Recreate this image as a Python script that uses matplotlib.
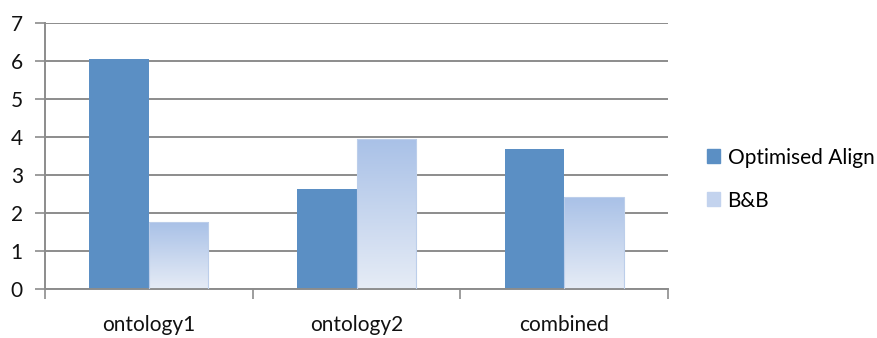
import numpy as np
import matplotlib.pyplot as plt
from matplotlib.patches import Patch

categories = ['ontology1', 'ontology2', 'combined']
optimised_align = [6.04, 2.63, 3.67]
bnb = [1.76, 3.93, 2.40]
series_names = ['Optimised Align', 'B&B']

plt.rcParams['font.family'] = ['Lato', 'DejaVu Sans']

fig = plt.figure(figsize=(8.78, 3.38), dpi=100)
ax = fig.add_axes([0.0513, 0.146, 0.7095, 0.787])

x = np.arange(len(categories))
w = 0.286
blue = '#5B8FC4'
grid_col = '#8C8C8C'
fs = 15

ax.set_axisbelow(True)
bars1 = ax.bar(x - w / 2, optimised_align, w, color=blue, zorder=2)
bars2 = ax.bar(x + w / 2, bnb, w, facecolor='none', edgecolor='#BCCEEA',
               linewidth=0.8, zorder=3)

# vertical gradient inside each light bar
grad = np.linspace(0, 1, 256).reshape(-1, 1)
cmap = plt.matplotlib.colors.LinearSegmentedColormap.from_list(
    'lb', ['#E6ECF6', '#A9C1E7'])
for p in bars2:
    x0, h = p.get_x(), p.get_height()
    im = ax.imshow(grad, cmap=cmap, origin='lower', aspect='auto',
                   extent=(x0, x0 + p.get_width(), 0, h), zorder=2.5)
    im.set_clip_path(p)

ax.set_xlim(-0.5, 2.5)
ax.set_ylim(0, 7)
ax.set_yticks(range(8))
ax.yaxis.grid(True, color=grid_col, linewidth=1.4)

ax.set_xticks(x)
ax.set_xticklabels(categories)
ax.set_xticks([-0.5, 0.5, 1.5, 2.5], minor=True)
ax.tick_params(axis='x', which='major', length=0, pad=19, labelsize=fs,
               colors='#111111')
ax.tick_params(axis='x', which='minor', length=7, width=1.2, color=grid_col,
               direction='out')
ax.tick_params(axis='y', length=7, width=1.2, color=grid_col, pad=9,
               labelsize=fs, labelcolor='#111111')

for s in ['top', 'right']:
    ax.spines[s].set_visible(False)
for s in ['left', 'bottom']:
    ax.spines[s].set_color(grid_col)
    ax.spines[s].set_linewidth(1.4)

handles = [Patch(color=blue), Patch(facecolor='#C3D3EE', edgecolor='#C3D3EE')]
fig.legend(handles, series_names, loc='center left',
           bbox_to_anchor=(0.805, 0.47), frameon=False, fontsize=fs,
           handlelength=0.65, handleheight=0.65, handletextpad=0.35,
           labelspacing=1.1, borderaxespad=0, borderpad=0)

fig.savefig('out.png', dpi=100)
